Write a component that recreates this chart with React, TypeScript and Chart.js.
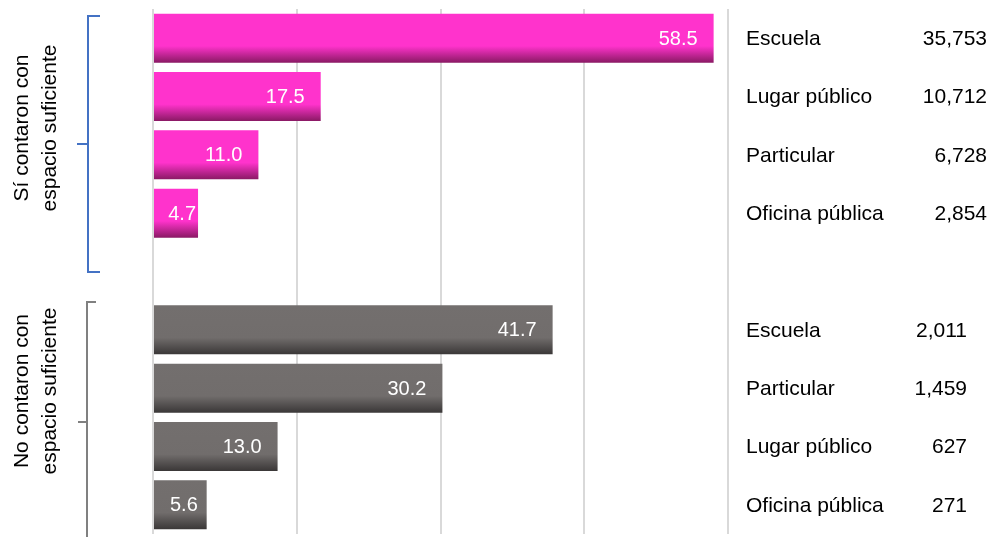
import React, { useEffect, useRef } from "react";
import { Chart, registerables } from "chart.js";

Chart.register(...registerables);

const categories = ["Escuela", "Lugar público", "Particular", "Oficina pública", "", "Escuela", "Particular", "Lugar público", "Oficina pública"];
const percentValues: (number | null)[] = [58.5, 17.5, 11.0, 4.7, null, 41.7, 30.2, 13.0, 5.6];
const countLabels = ["35,753", "10,712", "6,728", "2,854", "", "2,011", "1,459", "627", "271"];
const groupLabels = [["Sí contaron con", "espacio suficiente"], ["No contaron con", "espacio suficiente"]];
const xTicks = [0, 15, 30, 45, 60];

const PINK = ["#FF33CC", "#FF33CC", "#8A1964"];
const GRAY = ["#736F6E", "#716D6C", "#3A3737"];
const FONT = "'Liberation Sans', Arial, sans-serif";

export default function App() {
  const ref = useRef<HTMLCanvasElement | null>(null);
  useEffect(() => {
    if (!ref.current) return;
    const overlay = {
      id: "overlay",
      afterDatasetsDraw(chart: any) {
        const ctx = chart.ctx;
        const meta = chart.getDatasetMeta(0);
        const ys = chart.scales.y;
        ctx.save();
        ctx.font = `20px ${FONT}`;
        ctx.textBaseline = "middle";
        // value labels inside bars
        meta.data.forEach((bar: any, i: number) => {
          const v = percentValues[i];
          if (v == null) return;
          const txt = v.toFixed(1);
          const w = ctx.measureText(txt).width;
          const start = bar.base;
          const end = bar.x;
          let right = Math.max(end - 16, start + w + 16);
          right = Math.min(right, end - 2);
          ctx.fillStyle = "#FFFFFF";
          ctx.textAlign = "right";
          ctx.fillText(txt, right, bar.y + 1);
        });
        // right side labels
        ctx.font = `21px ${FONT}`;
        ctx.fillStyle = "#000000";
        categories.forEach((c, i) => {
          if (!c) return;
          const y = ys.getPixelForValue(i) + 1;
          ctx.textAlign = "left";
          ctx.fillText(c, 746, y);
          ctx.textAlign = "right";
          ctx.fillText(countLabels[i], i < 4 ? 987 : 967, y);
        });
        // brackets
        ctx.lineWidth = 2;
        ctx.strokeStyle = "#4472C4";
        ctx.beginPath();
        ctx.moveTo(100, 16);
        ctx.lineTo(88, 16);
        ctx.lineTo(88, 272);
        ctx.lineTo(100, 272);
        ctx.moveTo(77, 144);
        ctx.lineTo(88, 144);
        ctx.stroke();
        ctx.strokeStyle = "#808080";
        ctx.beginPath();
        ctx.moveTo(96, 302);
        ctx.lineTo(87, 302);
        ctx.lineTo(87, 540);
        ctx.moveTo(78, 422);
        ctx.lineTo(87, 422);
        ctx.stroke();
        // rotated group labels
        const drawGroup = (lines: string[], cy: number) => {
          ctx.save();
          ctx.translate(36, cy);
          ctx.rotate(-Math.PI / 2);
          ctx.fillStyle = "#000000";
          ctx.textAlign = "center";
          ctx.textBaseline = "middle";
          ctx.fillText(lines[0], 0, -14);
          ctx.fillText(lines[1], 0, 14);
          ctx.restore();
        };
        drawGroup(groupLabels[0], 128);
        drawGroup(groupLabels[1], 391);
        ctx.restore();
      },
    };

    const makeFill = (context: any) => {
      const chart = context.chart;
      const i = context.dataIndex;
      const cols = i < 4 ? PINK : GRAY;
      const ys = chart.scales?.y;
      if (!ys || !chart.chartArea) return cols[0];
      const c = ys.getPixelForValue(i);
      const half = ((ys.height / categories.length) * 0.84) / 2;
      const g = chart.ctx.createLinearGradient(0, c - half, 0, c + half);
      g.addColorStop(0, cols[0]);
      g.addColorStop(0.66, cols[1]);
      g.addColorStop(1, cols[2]);
      return g;
    };

    const chart = new Chart(ref.current, {
      type: "bar",
      data: {
        labels: categories,
        datasets: [
          {
            data: percentValues as any,
            backgroundColor: makeFill as any,
            borderWidth: 0,
            barPercentage: 0.84,
            categoryPercentage: 1,
          },
        ],
      },
      options: {
        indexAxis: "y",
        animation: false,
        responsive: true,
        maintainAspectRatio: false,
        layout: { padding: { left: 153, right: 263, top: 9, bottom: 3 } },
        plugins: { legend: { display: false }, tooltip: { enabled: false } },
        scales: {
          x: {
            min: 0,
            max: 60,
            afterBuildTicks: (axis: any) => {
              axis.ticks = xTicks.map((v) => ({ value: v }));
            },
            ticks: { display: false },
            grid: { color: "#D9D9D9", lineWidth: 2, drawTicks: false },
            border: { display: false },
          },
          y: {
            display: false,
            grid: { display: false },
          },
        },
      },
      plugins: [overlay],
    });
    return () => chart.destroy();
  }, []);
  return (
    <div style={{ position: "fixed", left: 0, top: 0, width: 991, height: 537, background: "#fff" }}>
      <canvas ref={ref} />
    </div>
  );
}
